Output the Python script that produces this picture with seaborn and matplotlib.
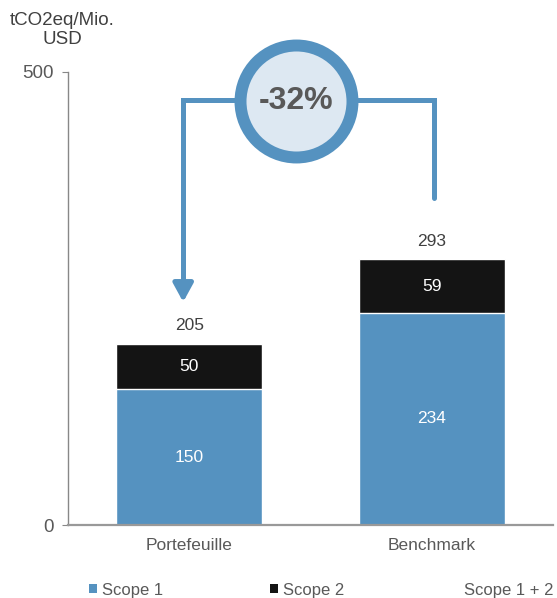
import numpy as np
import pandas as pd
import matplotlib
matplotlib.use("Agg")
import matplotlib.pyplot as plt
from matplotlib.patches import Patch
from matplotlib.lines import Line2D
import seaborn as sns

categories = ["Portefeuille", "Benchmark"]
scope1 = [150, 234]
scope2 = [50, 59]
totals = [205, 293]
change_label = "-32%"

blue = "#5592c0"
black = "#141414"
grey_txt = "#595959"

sns.set_style("white")
plt.rcParams["font.family"] = ["Liberation Sans", "DejaVu Sans"]

df = pd.DataFrame({"cat": categories, "s1": scope1, "s2": scope2})
df["stack"] = df["s1"] + df["s2"]

fig = plt.figure(figsize=(5.57, 5.98), dpi=100)
ax = fig.add_axes([0.122, 0.122, 0.871, 0.758])

sns.barplot(data=df, x="cat", y="stack", color=black, saturation=1, width=0.6,
            edgecolor="white", linewidth=1, ax=ax)
sns.barplot(data=df, x="cat", y="s1", color=blue, saturation=1, width=0.6,
            edgecolor="white", linewidth=1, ax=ax)

# labels in and above the bars
fs = 12.5
for i, row in df.iterrows():
    ax.text(i, row["s1"] / 2, str(row["s1"]), ha="center", va="center",
            color="white", fontsize=fs)
    ax.text(i, row["s1"] + row["s2"] / 2, str(row["s2"]), ha="center",
            va="center", color="white", fontsize=fs)
    ax.text(i, row["stack"] + 20, str(totals[i]), ha="center", va="center",
            color="#404040", fontsize=fs)

ax.set_xlim(-0.5, 1.5)
ax.set_ylim(0, 500)
ax.set_yticks([0, 500])
ax.set_xlabel("")
ax.set_ylabel("")
ax.tick_params(axis="y", length=4, color="#888888", labelcolor=grey_txt,
               labelsize=13.5, left=True, direction="out", pad=6)
ax.tick_params(axis="x", length=0, labelcolor=grey_txt, labelsize=fs, pad=9)
for s in ["top", "right"]:
    ax.spines[s].set_visible(False)
ax.spines["left"].set_color("#888888")
ax.spines["left"].set_linewidth(1)
ax.spines["bottom"].set_color("#999999")
ax.spines["bottom"].set_linewidth(1.6)

# connector with arrow and circle
lw = 3.6
ax.plot([-0.025, -0.025, 0.44], [266, 469, 469], color=blue, lw=lw,
        solid_joinstyle="miter", clip_on=False)
ax.plot([0.44, 1.008, 1.008], [469, 469, 361], color=blue, lw=lw,
        solid_joinstyle="miter", clip_on=False)
ax.annotate("", xy=(-0.025, 246), xytext=(-0.025, 268),
            arrowprops=dict(arrowstyle="-|>,head_length=0.55,head_width=0.3",
                            color=blue, lw=lw, mutation_scale=20,
                            shrinkA=0, shrinkB=0))
ax.scatter([0.442], [468], s=6500, facecolor="#dde8f2", edgecolor=blue,
           linewidth=8.6, zorder=5, clip_on=False)
ax.text(0.442, 468, change_label, ha="center", va="center", fontsize=23,
        fontweight="bold", color=grey_txt, zorder=6)

fig.text(62 / 557, 1 - 30 / 598, "tCO2eq/Mio.\nUSD", ha="center", va="center",
         multialignment="center", fontsize=13.5, color="#404040",
         linespacing=1.2)

handles = [Patch(facecolor=blue, edgecolor="none"),
           Patch(facecolor=black, edgecolor="none"),
           Line2D([], [], linestyle="none")]
fig.legend(handles, ["Scope 1", "Scope 2", "Scope 1 + 2"], ncol=3,
           loc="center left", bbox_to_anchor=(89 / 557, 1 - 590 / 598),
           frameon=False, fontsize=12, labelcolor=grey_txt, handlelength=0.45,
           handleheight=0.45, handletextpad=0.3, columnspacing=6.45,
           borderpad=0, borderaxespad=0)

fig.savefig("out.png", dpi=100)
